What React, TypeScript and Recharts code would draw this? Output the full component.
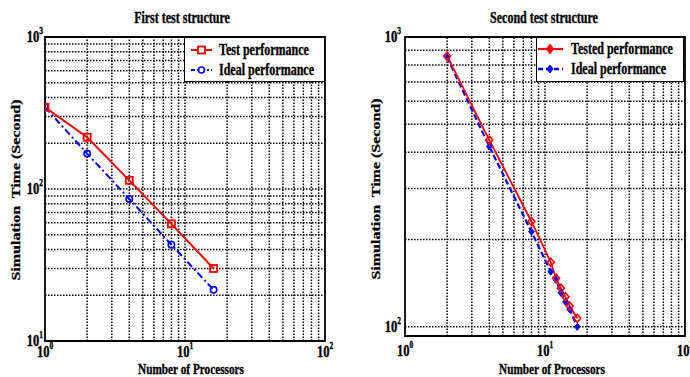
import React from 'react';
import { LineChart, Line, XAxis, YAxis, ReferenceLine, ReferenceArea } from 'recharts';

// ---------- data ----------
const leftProcessors = [1, 2, 4, 8, 16];
const leftTestTime = [345, 219, 114, 59, 30];
const leftIdealTime = [345, 171, 86, 43, 21.7];

const rightProcessors = [2, 4, 8, 11, 12, 13, 14, 15, 17];
const rightTestedTime = [860, 441, 231, 167, 147, 136, 127, 118, 107];
const rightIdealTime = [850, 419, 213, 155, 145, 131, 122, 115, 100];

const xTicks = [1, 10, 100];
const leftYTicks = [10, 100, 1000];
const rightYTicks = [100, 1000];

const xGrid = [2, 3, 4, 5, 6, 7, 8, 9, 10, 20, 30, 40, 50, 60, 70, 80, 90];
const leftYGrid = [20, 30, 40, 50, 60, 70, 80, 90, 100, 200, 300, 400, 500, 600, 700, 800, 900];
const rightYGrid = [100, 200, 300, 400, 500, 600, 700, 800, 900];

const leftTitle = 'First test structure';
const rightTitle = 'Second test structure';
const xLabel = 'Number of Processors';
const yLabel = 'Simulation  Time (Second)';
const leftLegend = ['Test performance', 'Ideal performance'];
const rightLegend = ['Tested performance', 'Ideal performance'];

const leftData = leftProcessors.map((p, i) => ({ x: p, test: leftTestTime[i], ideal: leftIdealTime[i] }));
const rightData = rightProcessors.map((p, i) => ({ x: p, test: rightTestedTime[i], ideal: rightIdealTime[i] }));

const FONT = '"Liberation Serif", "Times New Roman", serif';
const RED = '#ff0000';
const BLUE = '#0000ff';

// ---------- helpers ----------
const XPowTick = (props: any) => {
  const { x, y, payload, dy } = props;
  const e = Math.round(Math.log10(payload.value));
  return (
    <g transform={`translate(${x},${y + dy}) scale(0.74,1)`}>
      <text x={0} y={0} textAnchor="middle" fontFamily={FONT} fontWeight="bold" fontSize={17} fill="#000" stroke="#000" strokeWidth={0.4}>
        10<tspan dy={-8} fontSize={10}>{e}</tspan>
      </text>
    </g>
  );
};

const YPowTick = (props: any) => {
  const { x, y, payload, dx } = props;
  const e = Math.round(Math.log10(payload.value));
  return (
    <g transform={`translate(${x - dx},${y + 5}) scale(0.74,1)`}>
      <text x={0} y={0} textAnchor="end" fontFamily={FONT} fontWeight="bold" fontSize={17} fill="#000" stroke="#000" strokeWidth={0.4}>
        10<tspan dy={-8} fontSize={10}>{e}</tspan>
      </text>
    </g>
  );
};

const Txt = ({ x, y, children, anchor = 'middle', rot = 0, size = 16 }: any) => {
  const base: React.CSSProperties = {
    position: 'absolute',
    left: x,
    top: y,
    whiteSpace: 'pre',
    fontFamily: FONT,
    fontWeight: 'bold',
    fontSize: size,
    lineHeight: 1,
    color: '#000',
    WebkitTextStroke: '0.35px #000',
  };
  if (rot !== 0) {
    return (
      <div style={{ ...base, transform: `translate(-50%,-50%) rotate(${rot}deg) scale(1,0.75)`, transformOrigin: 'center' }}>
        {children}
      </div>
    );
  }
  if (anchor === 'start') {
    return (
      <div style={{ ...base, transform: 'translate(0,-50%) scaleX(0.75)', transformOrigin: 'left center' }}>{children}</div>
    );
  }
  return (
    <div style={{ ...base, transform: 'translate(-50%,-50%) scaleX(0.75)', transformOrigin: 'center' }}>{children}</div>
  );
};

const squareDot = (p: any) =>
  p.cx == null ? <g key={p.index} /> : (
    <rect key={p.index} x={p.cx - 3.5} y={p.cy - 3.5} width={7} height={7} fill="none" stroke={RED} strokeWidth={1.8} />
  );
const circleDot = (p: any) =>
  p.cx == null ? <g key={p.index} /> : (
    <circle key={p.index} cx={p.cx} cy={p.cy} r={3.2} fill="none" stroke={BLUE} strokeWidth={1.6} />
  );
const redDiamond = (p: any) =>
  p.cx == null ? <g key={p.index} /> : (
    <path key={p.index} d={`M${p.cx},${p.cy - 4} L${p.cx + 3.5},${p.cy} L${p.cx},${p.cy + 4} L${p.cx - 3.5},${p.cy} Z`} fill="none" stroke={RED} strokeWidth={1.6} />
  );
const blueDiamond = (p: any) =>
  p.cx == null ? <g key={p.index} /> : (
    <path key={p.index} d={`M${p.cx},${p.cy - 3.5} L${p.cx + 2.8},${p.cy} L${p.cx},${p.cy + 3.5} L${p.cx - 2.8},${p.cy} Z`} fill={BLUE} stroke={BLUE} strokeWidth={1} />
  );

const gridLine = { stroke: '#000', strokeDasharray: '1.5 1.5', strokeWidth: 1.5 } as const;

export default function App() {
  return (
    <div style={{ position: 'absolute', left: 0, top: 0, width: 690, height: 377, overflow: 'hidden', background: '#fff' }}>
      {/* Left chart */}
      <div style={{ position: 'absolute', left: 0, top: 0 }}>
        <LineChart width={345} height={377} data={leftData} margin={{ top: 37, right: 20, bottom: 0, left: 0 }}>
          <XAxis dataKey="x" type="number" scale="log" domain={[1, 100]} ticks={xTicks} allowDataOverflow
            axisLine={false} tickLine={false} tickSize={0} tickMargin={0} height={36} interval={0}
            tick={(p: any) => <XPowTick {...p} dy={16} />} />
          <YAxis type="number" scale="log" domain={[10, 1000]} ticks={leftYTicks} allowDataOverflow
            axisLine={false} tickLine={false} tickSize={0} tickMargin={0} width={45} interval={0}
            tick={(p: any) => <YPowTick {...p} dx={2} />} />
          {xGrid.map((v) => <ReferenceLine key={'x' + v} x={v} {...gridLine} />)}
          {leftYGrid.map((v) => <ReferenceLine key={'y' + v} y={v} {...gridLine} />)}
          <ReferenceArea x1={1} x2={100} y1={10} y2={1000} fill="none" stroke="#000" strokeWidth={1.8} fillOpacity={0} />
          <Line dataKey="ideal" stroke={BLUE} strokeWidth={2} strokeDasharray="7 3 2 3" dot={circleDot} isAnimationActive={false} />
          <Line dataKey="test" stroke={RED} strokeWidth={2} dot={squareDot} isAnimationActive={false} />
        </LineChart>
      </div>

      {/* Right chart */}
      <div style={{ position: 'absolute', left: 345, top: 0 }}>
        <LineChart width={345} height={377} data={rightData} margin={{ top: 37, right: 5, bottom: 0, left: 0 }}>
          <XAxis dataKey="x" type="number" scale="log" domain={[1, 100]} ticks={xTicks} allowDataOverflow
            axisLine={false} tickLine={false} tickSize={0} tickMargin={0} height={41} interval={0}
            tick={(p: any) => <XPowTick {...p} dy={20} />} />
          <YAxis type="number" scale="log" domain={[93, 1000]} ticks={rightYTicks} allowDataOverflow
            axisLine={false} tickLine={false} tickSize={0} tickMargin={0} width={60} interval={0}
            tick={(p: any) => <YPowTick {...p} dx={4} />} />
          {xGrid.map((v) => <ReferenceLine key={'x' + v} x={v} {...gridLine} />)}
          {rightYGrid.map((v) => <ReferenceLine key={'y' + v} y={v} {...gridLine} />)}
          <ReferenceArea x1={1} x2={100} y1={93} y2={1000} fill="none" stroke="#000" strokeWidth={1.8} fillOpacity={0} />
          <Line dataKey="ideal" stroke={BLUE} strokeWidth={2.2} strokeDasharray="6 3" dot={blueDiamond} isAnimationActive={false} />
          <Line dataKey="test" stroke={RED} strokeWidth={1.8} dot={redDiamond} isAnimationActive={false} />
        </LineChart>
      </div>

      {/* Titles and axis labels */}
      <Txt x={182} y={18}>{leftTitle}</Txt>
      <Txt x={544} y={18}>{rightTitle}</Txt>
      <Txt x={191} y={369} size={15}>{xLabel}</Txt>
      <Txt x={552} y={369} size={15}>{xLabel}</Txt>
      <Txt x={16} y={190} rot={-90}>{yLabel}</Txt>
      <Txt x={376} y={189} rot={-90}>{yLabel}</Txt>

      {/* Left legend */}
      <div style={{ position: 'absolute', left: 184, top: 37, width: 141, height: 45, background: '#fff', border: '1.5px solid #000', boxSizing: 'border-box' }} />
      <svg style={{ position: 'absolute', left: 184, top: 37 }} width={40} height={45}>
        <line x1={7} y1={13} x2={28} y2={13} stroke={RED} strokeWidth={2} />
        <rect x={14} y={9.5} width={7} height={7} fill="#fff" stroke={RED} strokeWidth={1.8} />
        <line x1={7} y1={33} x2={28} y2={33} stroke={BLUE} strokeWidth={2} strokeDasharray="4 2 2 2" />
        <circle cx={17.5} cy={33} r={3} fill="#fff" stroke={BLUE} strokeWidth={1.6} />
      </svg>
      <Txt x={219} y={50} anchor="start">{leftLegend[0]}</Txt>
      <Txt x={219} y={70} anchor="start">{leftLegend[1]}</Txt>

      {/* Right legend */}
      <div style={{ position: 'absolute', left: 536, top: 37, width: 148, height: 45, background: '#fff', border: '1.5px solid #000', boxSizing: 'border-box' }} />
      <svg style={{ position: 'absolute', left: 536, top: 37 }} width={40} height={45}>
        <line x1={2} y1={12} x2={27} y2={12} stroke={RED} strokeWidth={2.2} />
        <path d="M14,7 L17.5,12 L14,17 L10.5,12 Z" fill={RED} stroke={RED} strokeWidth={1} />
        <line x1={2} y1={32} x2={27} y2={32} stroke={BLUE} strokeWidth={2.5} strokeDasharray="5 3" />
        <path d="M14,28 L17,32 L14,36 L11,32 Z" fill={BLUE} stroke={BLUE} strokeWidth={1} />
      </svg>
      <Txt x={571} y={49} anchor="start">{rightLegend[0]}</Txt>
      <Txt x={571} y={69} anchor="start">{rightLegend[1]}</Txt>
    </div>
  );
}
